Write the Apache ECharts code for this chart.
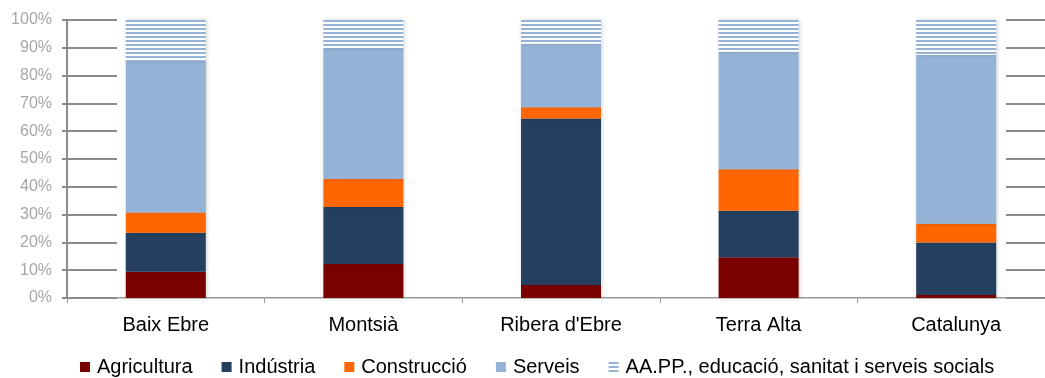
<!DOCTYPE html>
<html>
<head>
<meta charset="utf-8">
<script src="https://cdn.jsdelivr.net/npm/echarts@6/dist/echarts.min.js"></script>
<style>
    html, body { margin: 0; padding: 0; background: #fff; }
    #chart { width: 1045px; height: 378px; }
</style>
</head>
<body>
<div id="chart"></div>
<script>
const comarques = ['Baix Ebre', 'Montsià', "Ribera d'Ebre", 'Terra Alta', 'Catalunya'];

const agricultura = [9.4, 12.2, 4.7, 14.7, 1.1];
const industria = [14.1, 20.5, 59.9, 16.7, 18.9];
const construccio = [7.3, 10.1, 4.0, 14.9, 6.7];
const serveis = [54.6, 47.1, 22.9, 42.3, 60.7];
const aapp = [14.6, 10.1, 8.5, 11.4, 12.6];

const yTicks = [0, 10, 20, 30, 40, 50, 60, 70, 80, 90, 100];

window.onload = () => {
    new SectorChartVm().main();
};

class SectorChartVm {
    chart;

    main() {
        this.initChart();
    }

    stripePattern() {
        let canvas = document.createElement('canvas');
        canvas.width = 8;
        canvas.height = 4;
        let ctx = canvas.getContext('2d');
        ctx.fillStyle = '#ffffff';
        ctx.fillRect(0, 0, 8, 4);
        ctx.fillStyle = '#95B3D7';
        ctx.fillRect(0, 0, 8, 2);
        return { image: canvas, repeat: 'repeat' };
    }

    makeSeries(name, data, color) {
        return {
            name: name,
            type: 'bar',
            stack: 'total',
            barWidth: '40.5%',
            data: data,
            itemStyle: {
                color: color,
                shadowColor: 'rgba(0,0,0,0.18)',
                shadowBlur: 4,
                shadowOffsetX: 1
            },
            emphasis: { disabled: true }
        };
    }

    initChart() {
        let axisGray = '#8c8c8c';

        let chartOption = {
            animation: false,
            textStyle: { fontFamily: 'Liberation Sans, Arial, sans-serif' },
            // the plot runs a little past the right edge of the picture
            grid: { left: 67, width: 988, top: 20, height: 278, outerBoundsMode: 'none' },
            legend: {
                left: 75,
                top: 352,
                itemWidth: 10,
                itemHeight: 10,
                itemGap: 29,
                icon: 'rect',
                textStyle: { fontSize: 20, color: '#000', padding: [0, 0, 0, 2] },
                data: ['Agricultura', 'Indústria', 'Construcció', 'Serveis',
                    'AA.PP., educació, sanitat i serveis socials']
            },
            xAxis: [{
                type: 'category',
                data: comarques,
                axisLine: { lineStyle: { color: '#999', width: 2 } },
                axisTick: { show: true, length: 5, lineStyle: { color: '#999' } },
                axisLabel: { fontSize: 20, color: '#000', margin: 17 }
            }, {
                type: 'category',
                position: 'top',
                data: comarques,
                axisLine: { lineStyle: { color: '#cccccc', width: 1 } },
                axisTick: { show: false },
                axisLabel: { show: false }
            }],
            yAxis: [{
                type: 'value',
                min: 0,
                max: 100,
                interval: 10,
                axisLine: { show: true, lineStyle: { color: axisGray, width: 2 } },
                axisTick: { show: true, inside: true, length: 50, lineStyle: { color: axisGray, width: 2 } },
                axisLabel: {
                    fontSize: 16,
                    color: '#a6a6a6',
                    margin: 15,
                    formatter: value => yTicks.includes(value) ? value + '%' : ''
                },
                splitLine: { show: false }
            }, {
                type: 'value',
                min: 0,
                max: 100,
                interval: 10,
                position: 'left',
                axisLine: { show: false },
                axisTick: { show: true, length: 5, lineStyle: { color: axisGray, width: 2 } },
                axisLabel: { show: false },
                splitLine: { show: false }
            }, {
                type: 'value',
                min: 0,
                max: 100,
                interval: 10,
                position: 'right',
                axisLine: { show: false },
                axisTick: { show: true, inside: true, length: 49, lineStyle: { color: axisGray, width: 2 } },
                axisLabel: { show: false },
                splitLine: { show: false }
            }],
            series: [
                this.makeSeries('Agricultura', agricultura, '#7B0000'),
                this.makeSeries('Indústria', industria, '#243F60'),
                this.makeSeries('Construcció', construccio, '#FF6600'),
                this.makeSeries('Serveis', serveis, '#95B3D7'),
                this.makeSeries('AA.PP., educació, sanitat i serveis socials', aapp, this.stripePattern())
            ]
        };

        this.chart = echarts.init(document.getElementById('chart'));
        this.chart.setOption(chartOption);
    }
}
</script>
</body>
</html>
